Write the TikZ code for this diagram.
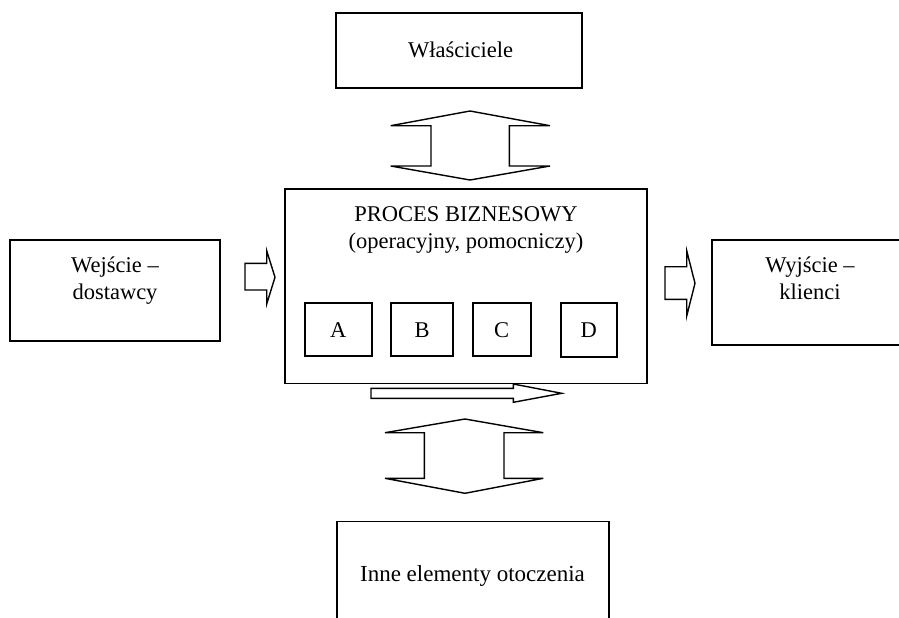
\documentclass[tikz,border=0pt]{standalone}
\usepackage{fontspec}
\setmainfont{Liberation Serif}
\begin{document}
\begin{tikzpicture}[x=1pt,y=-1pt,
  box/.style={draw,line width=1.8pt,inner sep=0pt},
  blockarrow/.style={draw,line width=1.4pt,line join=miter},
  lbl/.style={font=\fontsize{22.5}{27}\selectfont,inner sep=0pt,anchor=base}]
\useasboundingbox (0,0) rectangle (899,618);
\begin{scope}
\clip (0,0) rectangle (899,618);
% boxes
\node[box,minimum width=246pt,minimum height=75pt] (own) at (459,50.5) {};
\node[box,minimum width=361.7pt,minimum height=194.5pt] (main) at (466.2,286.2) {};
\node[box,minimum width=210pt,minimum height=101pt] (in) at (115,290.5) {};
\node[box,minimum width=196.6pt,minimum height=105pt] (out) at (810,292.5) {};
\node[box,minimum width=272.6pt,minimum height=118.6pt] (env) at (473,580.8) {};
\node[box,minimum width=66.7pt,minimum height=52.7pt] (A) at (338.3,329.7) {};
\node[box,minimum width=62.3pt,minimum height=52.7pt] (B) at (422.2,329.7) {};
\node[box,minimum width=58pt,minimum height=52.7pt] (C) at (501.7,329.7) {};
\node[box,minimum width=56pt,minimum height=53.4pt] (D) at (588.7,330) {};
% texts
\node[lbl] (ownt) at (460.5,57) {Właściciele};
\node[lbl] (maint1) at (466,221.7) {PROCES BIZNESOWY};
\node[lbl] (maint2) at (466,248.5) {(operacyjny, pomocniczy)};
\node[lbl] (int1) at (115,272.5) {Wejście –};
\node[lbl] (int2) at (115,299.5) {dostawcy};
\node[lbl] (outt1) at (810,272.5) {Wyjście –};
\node[lbl] (outt2) at (810,299) {klienci};
\node[lbl,font=\fontsize{23}{27}\selectfont] (envt) at (472.5,581.7) {Inne elementy otoczenia};
\node[lbl] (At) at (338.3,337) {A};
\node[lbl] (Bt) at (422.2,337) {B};
\node[lbl] (Ct) at (501.7,337) {C};
\node[lbl] (Dt) at (588.7,337) {D};
% block arrows
\draw[blockarrow] (390.7,125.7) -- (470,111) -- (550,125.7) -- (509.3,125.7) -- (509.3,166)
  -- (550,166) -- (470,180) -- (390.7,166) -- (431,166) -- (431,125.7) -- cycle;
\draw[blockarrow] (385,432.7) -- (465,419) -- (543.3,432.7) -- (504,432.7) -- (504,478.3)
  -- (543.3,478.3) -- (465,493.3) -- (385,478.3) -- (424.3,478.3) -- (424.3,432.7) -- cycle;
\draw[blockarrow] (371,388.3) -- (513.3,388.3) -- (513.3,384) -- (561.7,393.3) -- (513.3,402.3)
  -- (513.3,398.3) -- (371,398.3) -- cycle;
\draw[blockarrow] (245,263.3) -- (266.7,263.3) -- (266.7,250.7) -- (275,277.3) -- (266.7,304)
  -- (266.7,290) -- (245,290) -- cycle;
\draw[blockarrow] (665,266.7) -- (686.7,266.7) -- (686.7,250.7) -- (695,283.3) -- (686.7,316)
  -- (686.7,299.3) -- (665,299.3) -- cycle;
\end{scope}
\end{tikzpicture}
\end{document}
